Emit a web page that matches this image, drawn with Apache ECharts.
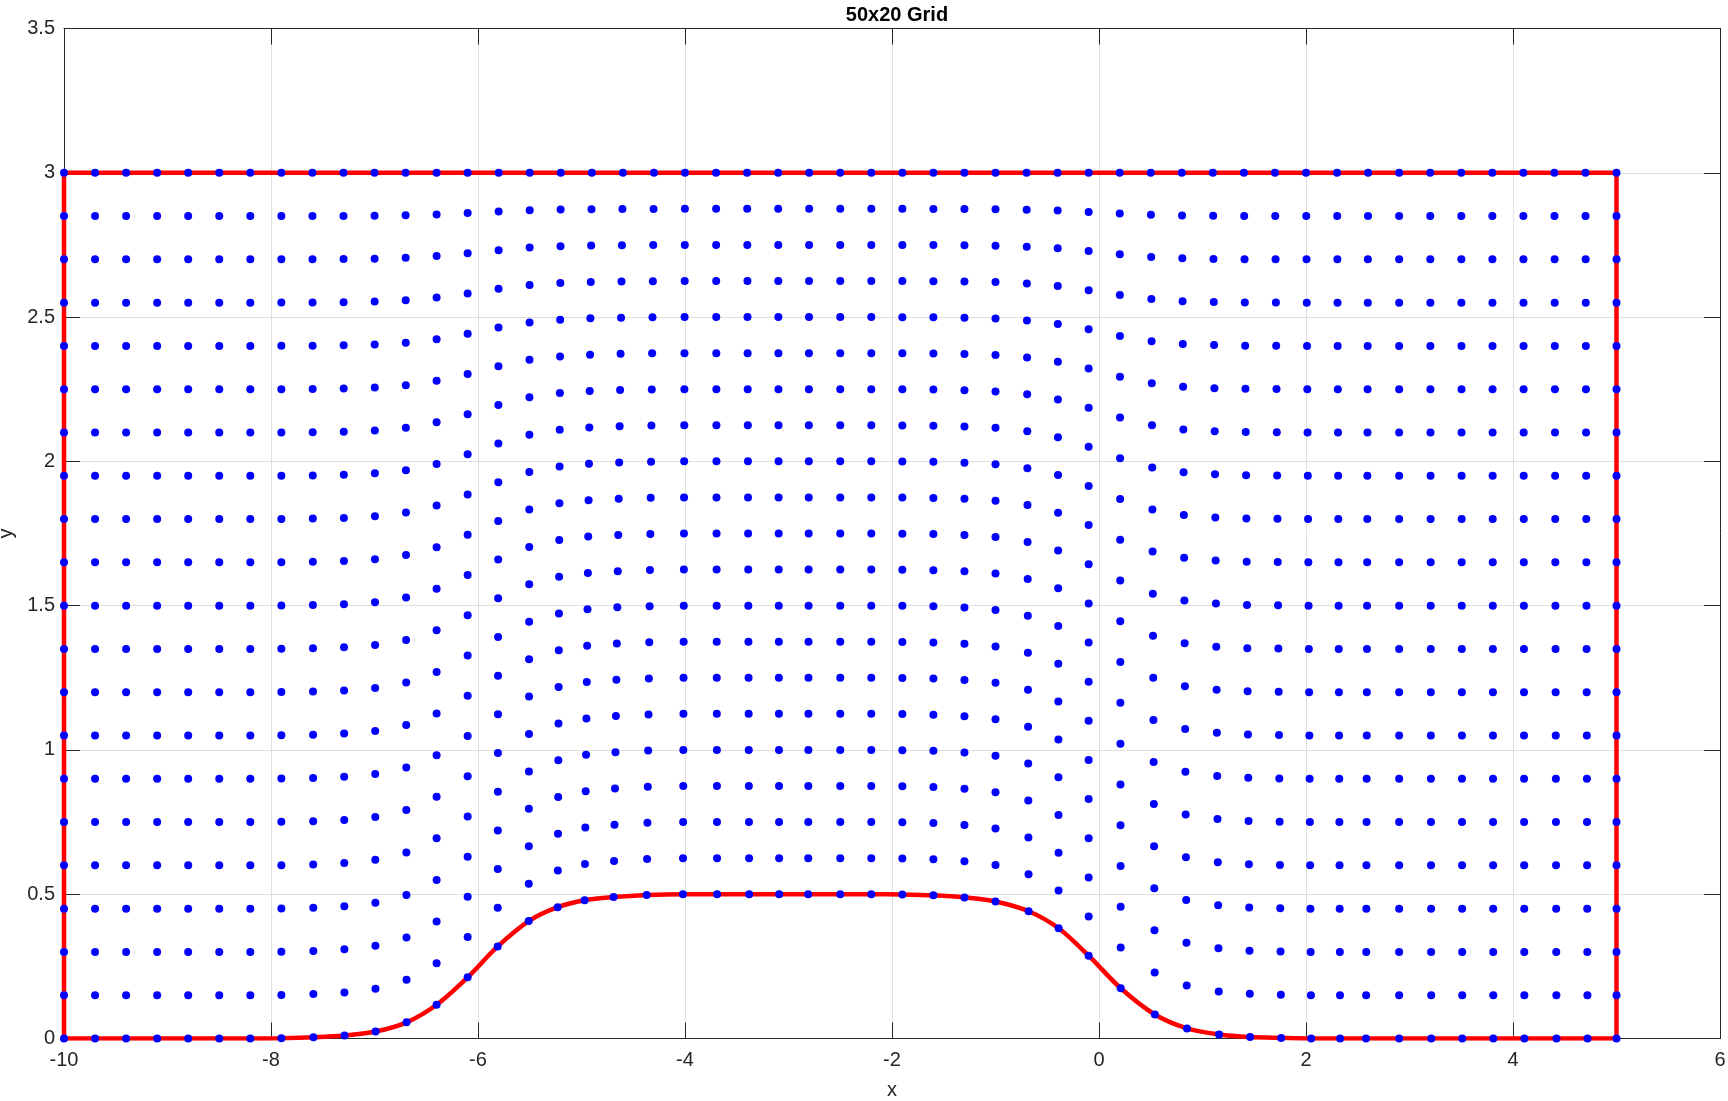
<!DOCTYPE html>
<html>
<head>
<meta charset="utf-8">
<title>50x20 Grid</title>
<script src="https://cdn.jsdelivr.net/npm/echarts@6/dist/echarts.min.js"></script>
<style>
  html, body { margin: 0; padding: 0; background: #fff; }
  #main { width: 1728px; height: 1101px; }
</style>
</head>
<body>
<div id="main"></div>
<script>
// column positions along the top wall (y = 3)
var xTop = [-10, -9.7, -9.4, -9.1, -8.8, -8.5, -8.2, -7.9, -7.6, -7.3, -7, -6.7, -6.4,
  -6.1, -5.8, -5.5, -5.2, -4.9, -4.6, -4.3, -4, -3.7, -3.4, -3.1, -2.8, -2.5,
  -2.2, -1.9, -1.6, -1.3, -1, -0.7, -0.4, -0.1, 0.2, 0.5, 0.8, 1.1, 1.4, 1.7,
  2, 2.3, 2.6, 2.9, 3.2, 3.5, 3.8, 4.1, 4.4, 4.7, 5];
var yTop = 3;

// bottom wall (bump) points
var xBottom = [-10, -9.7, -9.4, -9.1, -8.8, -8.5, -8.2, -7.9, -7.59, -7.29, -6.99, -6.69, -6.4,
  -6.1, -5.81, -5.51, -5.23, -4.97, -4.69, -4.37, -4.02, -3.69, -3.38, -3.09, -2.81, -2.5,
  -2.2, -1.9, -1.6, -1.3, -1, -0.68, -0.39, -0.1, 0.21, 0.54, 0.85, 1.16, 1.46, 1.76,
  2.05, 2.33, 2.58, 2.9, 3.21, 3.51, 3.81, 4.11, 4.42, 4.72, 5];
var yBottom = [0, 0, 0, 0, 0, 0, 0, 0.001, 0.004, 0.01, 0.024, 0.056, 0.117,
  0.212, 0.319, 0.407, 0.455, 0.479, 0.49, 0.497, 0.5, 0.5, 0.5, 0.5, 0.5, 0.5,
  0.5, 0.499, 0.496, 0.489, 0.475, 0.441, 0.382, 0.287, 0.174, 0.083, 0.035, 0.014, 0.005, 0.002,
  0, 0, 0, 0, 0, 0, 0, 0, 0, 0, 0];

// 20 cells in y: fraction of the way from bottom wall to top wall
var rowFrac = [0, 0.05, 0.1, 0.15, 0.2, 0.25, 0.3, 0.35, 0.4, 0.45, 0.5,
  0.55, 0.6, 0.65, 0.7, 0.75, 0.8, 0.85, 0.9, 0.95, 1];

var xTicks = [-10, 6, 2];
var yTicks = [0, 3.5, 0.5];

var FONT = 'Liberation Sans, Arial, Helvetica, sans-serif';
var AXIS = '#262626';

var nodes = [];
for (var i = 0; i < xTop.length; i++) {
  for (var j = 0; j < rowFrac.length; j++) {
    var f = rowFrac[j];
    nodes.push([xBottom[i] * (1 - f) + xTop[i] * f, yBottom[i] * (1 - f) + yTop * f]);
  }
}
var bump = xBottom.map(function (x, k) { return [x, yBottom[k]]; });
var last = xTop.length - 1;
var frame = [[xTop[0], yBottom[0]], [xTop[0], yTop], [xTop[last], yTop], [xTop[last], yBottom[last]]];

function axisBase(show) {
  return {
    type: 'value',
    axisLine: { show: true, onZero: false, lineStyle: { color: AXIS, width: 1 } },
    axisTick: { show: true, inside: true, length: 16, lineStyle: { color: AXIS, width: 1 } },
    axisLabel: { show: show, color: AXIS, fontSize: 20, fontFamily: FONT },
    splitLine: { show: false }
  };
}

var myChart = echarts.init(document.getElementById('main'));

var xBottomAxis = axisBase(true);
xBottomAxis.min = xTicks[0]; xBottomAxis.max = xTicks[1]; xBottomAxis.interval = xTicks[2];
xBottomAxis.position = 'bottom';
xBottomAxis.axisLabel.margin = 12;
xBottomAxis.splitLine = { show: true, lineStyle: { color: '#dfdfdf', width: 1 } };
xBottomAxis.name = 'x';
xBottomAxis.nameLocation = 'middle';
xBottomAxis.nameGap = 42;
xBottomAxis.nameTextStyle = { color: AXIS, fontSize: 20, fontFamily: FONT };

var xTopAxis = axisBase(false);
xTopAxis.min = xTicks[0]; xTopAxis.max = xTicks[1]; xTopAxis.interval = xTicks[2];
xTopAxis.position = 'top';

var yLeftAxis = axisBase(true);
yLeftAxis.min = yTicks[0]; yLeftAxis.max = yTicks[1]; yLeftAxis.interval = yTicks[2];
yLeftAxis.position = 'left';
yLeftAxis.axisLabel.margin = 9;
yLeftAxis.splitLine = { show: true, lineStyle: { color: '#dfdfdf', width: 1 } };
yLeftAxis.name = 'y';
yLeftAxis.nameLocation = 'middle';
yLeftAxis.nameRotate = 90;
yLeftAxis.nameGap = 46;
yLeftAxis.nameTextStyle = { color: AXIS, fontSize: 20, fontFamily: FONT };

var yRightAxis = axisBase(false);
yRightAxis.min = yTicks[0]; yRightAxis.max = yTicks[1]; yRightAxis.interval = yTicks[2];
yRightAxis.position = 'right';

var option = {
  animation: false,
  backgroundColor: '#ffffff',
  title: {
    text: '50x20 Grid',
    left: 892,
    top: 0,
    textAlign: 'center',
    textStyle: { color: '#000', fontSize: 20, fontWeight: 'bold', fontFamily: FONT }
  },
  grid: { left: 64, right: 8, top: 28.5, bottom: 62.5, containLabel: false, outerBoundsMode: 'none' },
  xAxis: [xBottomAxis, xTopAxis],
  yAxis: [yLeftAxis, yRightAxis],
  series: [
    {
      name: 'bump',
      type: 'line',
      data: bump,
      smooth: 0.3,
      showSymbol: false,
      lineStyle: { color: '#ff0000', width: 4.5 },
      z: 3
    },
    {
      name: 'walls',
      type: 'line',
      data: frame,
      showSymbol: false,
      lineStyle: { color: '#ff0000', width: 4.5 },
      z: 3
    },
    {
      name: 'nodes',
      type: 'scatter',
      data: nodes,
      symbol: 'circle',
      symbolSize: 8,
      itemStyle: { color: '#0000ff', opacity: 1 },
      z: 4
    }
  ]
};
myChart.setOption(option);
</script>
</body>
</html>
